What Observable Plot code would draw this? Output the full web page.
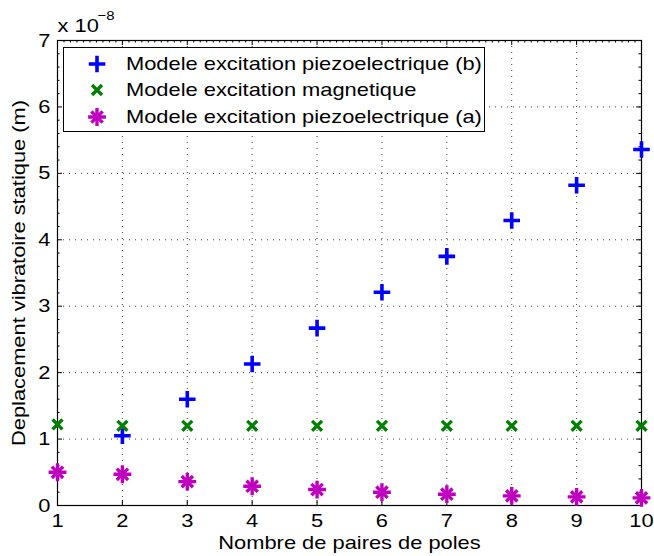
<!DOCTYPE html>
<html><head><meta charset="utf-8">
<script src="https://cdn.jsdelivr.net/npm/d3@7"></script>
<script src="https://cdn.jsdelivr.net/npm/@observablehq/plot@0.6"></script>
<style>
html,body{margin:0;padding:0;background:#fff;}
#wrap{position:relative;width:654px;height:556px;font-family:"Liberation Sans",Arial,sans-serif;overflow:hidden;}
#wrap svg{display:block;}
#legend{position:absolute;left:63px;top:47px;width:422px;height:85px;border:1px solid #000;background:#fff;box-sizing:border-box;}
.row{position:absolute;left:0;width:100%;height:26px;}
.row svg{position:absolute;left:23px;top:3px;}
.row span{position:absolute;left:62px;top:0;line-height:26px;font-size:19px;color:#000;white-space:nowrap;display:inline-block;transform:scaleX(1.15);transform-origin:0 50%;}
</style></head><body><div id="wrap"><div id="legend"></div></div>
<script>
// ---- data (values in units of 1e-8 m) ----
const poles = [1, 2, 3, 4, 5, 6, 7, 8, 9, 10];
const piezoB = [null, 1.05, 1.60, 2.13, 2.67, 3.21, 3.75, 4.29, 4.82, 5.36];
const magnetique = [1.22, 1.20, 1.20, 1.20, 1.20, 1.20, 1.20, 1.20, 1.20, 1.20];
const piezoA = [0.50, 0.47, 0.36, 0.29, 0.24, 0.20, 0.17, 0.145, 0.13, 0.115];
const seriesNames = ["Modele excitation piezoelectrique (b)", "Modele excitation magnetique", "Modele excitation piezoelectrique (a)"];
const seriesColors = ["#0000ff", "#008000", "#bf00bf"];
const xTicks = [1, 2, 3, 4, 5, 6, 7, 8, 9, 10];
const yTicks = [0, 1, 2, 3, 4, 5, 6, 7];
const xLabel = "Nombre de paires de poles";
const yLabel = "Deplacement vibratoire statique (m)";
const scaleText = "x 10";
const scaleExp = "\u22128";

// ---- layout ----
const W = 654, H = 556, mL = 57, mR = 13, mT = 40, mB = 51;
const pW = W - mL - mR, pH = H - mT - mB;
const FONT = "Liberation Sans, Arial, Helvetica, sans-serif";
const STRETCH = 1.15;

const rowsB = poles.map((p, i) => ({x: p, y: piezoB[i]})).filter(d => d.y != null);
const rowsM = poles.map((p, i) => ({x: p, y: magnetique[i]}));
const rowsA = poles.map((p, i) => ({x: p, y: piezoA[i]}));

const yMinor = d3.range(0, 7.0001, 0.2).filter(v => Math.abs(v - Math.round(v)) > 1e-6);
const xMinor = d3.range(1, 10.0001, 0.1).filter(v => Math.abs(v - Math.round(v)) > 1e-6);

const dotted = {stroke: "#000", strokeOpacity: 0.75, strokeDasharray: "1,5", strokeWidth: 1};

const chart = Plot.plot({
  width: W, height: H,
  marginLeft: mL, marginRight: mR, marginTop: mT, marginBottom: mB,
  style: {fontFamily: FONT, fontSize: "19px", background: "#fff", color: "#000"},
  x: {domain: [1, 10], label: null},
  y: {domain: [0, 7], label: null},
  marks: [
    Plot.gridX(xTicks.slice(1, -1), dotted),
    Plot.gridY(yTicks.slice(1, -1), dotted),
    // major ticks (inward)
    Plot.tickX(xTicks, {x: d => d, insetTop: pH - 5, stroke: "#000"}),
    Plot.tickX(xTicks, {x: d => d, insetBottom: pH - 5, stroke: "#000"}),
    Plot.tickY(yTicks, {y: d => d, insetRight: pW - 5, stroke: "#000"}),
    Plot.tickY(yTicks, {y: d => d, insetLeft: pW - 5, stroke: "#000"}),
    // minor ticks
    Plot.tickX(xMinor, {x: d => d, insetBottom: pH - 2.5, stroke: "#000"}),
    Plot.tickY(yMinor, {y: d => d, insetRight: pW - 2.5, stroke: "#000"}),
    Plot.tickY(yMinor, {y: d => d, insetLeft: pW - 2.5, stroke: "#000"}),
    Plot.axisX(xTicks, {tickSize: 0, tickPadding: 8, fontSize: 19, fill: "#000", tickFormat: d => String(d)}),
    Plot.axisY(yTicks, {tickSize: 0, tickPadding: 7, fontSize: 19, fill: "#000", tickFormat: d => String(d)}),
    Plot.frame({stroke: "#000", strokeWidth: 1.2}),
    // data
    Plot.dot(rowsB, {x: "x", y: "y", symbol: "plus", r: 5.4, stroke: seriesColors[0], strokeWidth: 3.6}),
    Plot.dot(rowsM, {x: "x", y: "y", symbol: "times", r: 4.6, stroke: seriesColors[1], strokeWidth: 3.3}),
    Plot.dot(rowsA, {x: "x", y: "y", symbol: "plus", r: 5.8, stroke: seriesColors[2], strokeWidth: 3.4}),
    Plot.dot(rowsA, {x: "x", y: "y", symbol: "times", r: 5.2, stroke: seriesColors[2], strokeWidth: 3.4}),
    // labels
    Plot.text([xLabel], {frameAnchor: "bottom", dy: 43, lineAnchor: "bottom", textAnchor: "middle", fontSize: 19, fill: "#000"}),
    Plot.text([yLabel], {frameAnchor: "left", dx: -33, rotate: -90, lineAnchor: "bottom", textAnchor: "middle", fontSize: 19, fill: "#000"}),
    Plot.text([scaleText], {frameAnchor: "top-left", dy: -9, lineAnchor: "bottom", textAnchor: "start", fontSize: 19, fill: "#000"}),
    Plot.text([scaleExp], {frameAnchor: "top-left", dx: 40, dy: -21, lineAnchor: "bottom", textAnchor: "start", fontSize: 13, fill: "#000"})
  ]
});

const wrap = document.getElementById("wrap");
wrap.insertBefore(chart, wrap.firstChild);
chart.style.position = "absolute"; chart.style.left = "0"; chart.style.top = "0";

// horizontally widen glyphs like the reference export
chart.querySelectorAll("text").forEach(t => {
  const tr = t.getAttribute("transform") || "";
  if (tr.includes("rotate")) {
    t.setAttribute("transform", tr + ` scale(${STRETCH},1)`);
    return;
  }
  const L = t.getComputedTextLength();
  if (L > 0) { t.setAttribute("textLength", L * STRETCH); t.setAttribute("lengthAdjust", "spacingAndGlyphs"); }
});

// legend
const legend = document.getElementById("legend");
const sym = (type, r) => d3.symbol(type, Math.PI * r * r)();
const legendMarkers = [
  [[d3.symbolPlus, 5.4, 3.6]],
  [[d3.symbolTimes, 4.6, 3.3]],
  [[d3.symbolPlus, 5.8, 3.4], [d3.symbolTimes, 5.2, 3.4]]
];
const rowTops = [3, 29, 55.5];
seriesNames.forEach((name, i) => {
  const row = document.createElement("div");
  row.className = "row";
  row.style.top = rowTops[i] + "px";
  const paths = legendMarkers[i].map(([t, r, w]) => `<path d="${sym(t, r)}" transform="translate(10,10)" fill="none" stroke="${seriesColors[i]}" stroke-width="${w}"/>`).join("");
  row.innerHTML = `<svg width="20" height="20">${paths}</svg><span>${name}</span>`;
  legend.appendChild(row);
});
</script>
</body></html>
